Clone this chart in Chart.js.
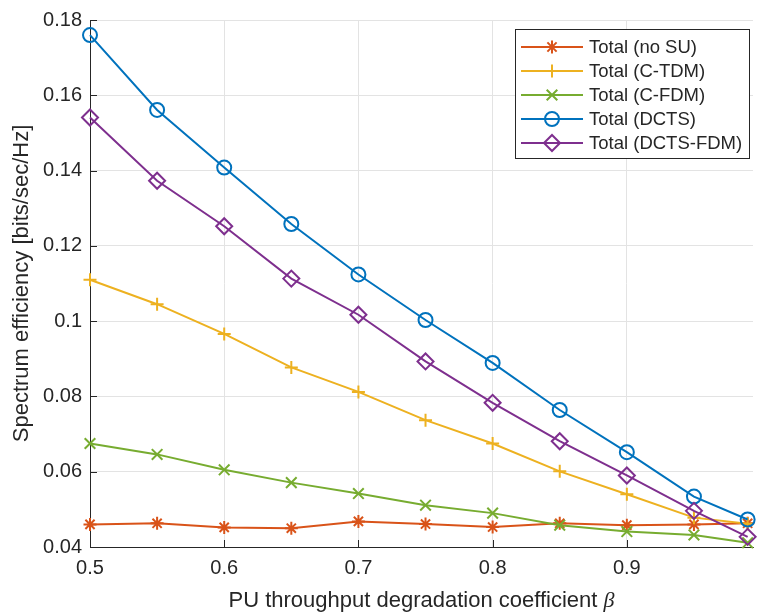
<!DOCTYPE html>
<html>
<head>
<meta charset="utf-8">
<script src="https://cdn.jsdelivr.net/npm/chart.js@4/dist/chart.umd.min.js"></script>
<style>
  html, body { margin: 0; padding: 0; background: #fff; overflow: hidden; }
</style>
</head>
<body>
<canvas id="chart" width="763" height="615"></canvas>
<script>
const beta = [0.5, 0.55, 0.6, 0.65, 0.7, 0.75, 0.8, 0.85, 0.9, 0.95, 0.99];
const noSU   = [0.0460, 0.0463, 0.0452, 0.0450, 0.0468, 0.0461, 0.0453, 0.0463, 0.0458, 0.0460, 0.0463];
const cTDM   = [0.1110, 0.1045, 0.0966, 0.0877, 0.0812, 0.0737, 0.0675, 0.0601, 0.0540, 0.0478, 0.0462];
const cFDM   = [0.0675, 0.0646, 0.0605, 0.0571, 0.0542, 0.0511, 0.0490, 0.0458, 0.0441, 0.0432, 0.0411];
const dcts   = [0.1760, 0.1561, 0.1408, 0.1258, 0.1124, 0.1003, 0.0889, 0.0764, 0.0652, 0.0534, 0.0473];
const dctsFDM = [0.1541, 0.1373, 0.1252, 0.1113, 0.1017, 0.0893, 0.0783, 0.0681, 0.0590, 0.0496, 0.0427];
const xTicks = [0.5, 0.6, 0.7, 0.8, 0.9];
const yTicks = [0.04, 0.06, 0.08, 0.1, 0.12, 0.14, 0.16, 0.18];

const FONT = '"Liberation Sans", Arial, Helvetica, sans-serif';
const AXIS = '#262626';

const series = [
  { label: 'Total (no SU)',     data: noSU,    color: '#D95319', style: 'star',     r: 6.5, order: 5 },
  { label: 'Total (C-TDM)',     data: cTDM,    color: '#EDB120', style: 'cross',    r: 6.5, order: 4 },
  { label: 'Total (C-FDM)',     data: cFDM,    color: '#77AC30', style: 'crossRot', r: 7.5, order: 3 },
  { label: 'Total (DCTS)',      data: dcts,    color: '#0072BD', style: 'circle',   r: 7,   order: 2 },
  { label: 'Total (DCTS-FDM)',  data: dctsFDM, color: '#7E2F8E', style: 'rectRot',  r: 8,   order: 1 },
];

// inward tick marks, axis titles and a matlab-like legend
const decorations = {
  id: 'decorations',
  afterDraw(chart) {
    const ctx = chart.ctx;
    const { left, right, top, bottom } = chart.chartArea;
    const xs = chart.scales.x, ys = chart.scales.y;
    ctx.save();
    ctx.strokeStyle = AXIS;
    ctx.lineWidth = 1;
    ctx.beginPath();
    xTicks.forEach(v => {
      const px = Math.round(xs.getPixelForValue(v)) + 0.5;
      ctx.moveTo(px, bottom); ctx.lineTo(px, bottom - 7);
    });
    yTicks.forEach(v => {
      const py = Math.round(ys.getPixelForValue(v)) + 0.5;
      ctx.moveTo(left, py); ctx.lineTo(left + 7, py);
    });
    ctx.stroke();

    // x title with italic beta
    ctx.fillStyle = AXIS;
    ctx.textBaseline = 'alphabetic';
    const main = 'PU throughput degradation coefficient ';
    ctx.font = '22px ' + FONT;
    const w1 = ctx.measureText(main).width;
    ctx.font = 'italic 22px "Liberation Serif", "DejaVu Serif", serif';
    const w2 = ctx.measureText('β').width;
    const startX = (left + right) / 2 - (w1 + w2) / 2;
    ctx.font = '22px ' + FONT;
    ctx.textAlign = 'left';
    ctx.fillText(main, startX, 607);
    ctx.font = 'italic 22px "Liberation Serif", "DejaVu Serif", serif';
    ctx.fillText('β', startX + w1, 607);

    // y title
    ctx.save();
    ctx.translate(28, (top + bottom) / 2);
    ctx.rotate(-Math.PI / 2);
    ctx.font = '22px ' + FONT;
    ctx.textAlign = 'center';
    ctx.fillText('Spectrum efficiency [bits/sec/Hz]', 0, 0);
    ctx.restore();

    // legend
    const bx = 515.5, by = 29.5, bw = 234, bh = 129;
    ctx.fillStyle = '#fff';
    ctx.fillRect(bx, by, bw, bh);
    ctx.strokeStyle = AXIS;
    ctx.lineWidth = 1;
    ctx.strokeRect(bx, by, bw, bh);
    ctx.font = '18.5px ' + FONT;
    ctx.textAlign = 'left';
    ctx.textBaseline = 'middle';
    series.forEach((s, i) => {
      const y = 47 + i * 24;
      ctx.strokeStyle = s.color;
      ctx.lineWidth = 2;
      ctx.beginPath();
      ctx.moveTo(521, y); ctx.lineTo(583, y);
      ctx.stroke();
      ctx.fillStyle = 'rgba(0,0,0,0)';
      Chart.helpers.drawPoint(ctx, { pointStyle: s.style, radius: s.r, rotation: 0, borderWidth: 2 }, 552, y);
      ctx.fillStyle = AXIS;
      ctx.fillText(s.label, 589, y + 1);
    });
    ctx.restore();
  }
};

new Chart(document.getElementById('chart'), {
  type: 'line',
  data: {
    datasets: series.map(s => ({
      label: s.label,
      data: beta.map((b, i) => ({ x: b, y: s.data[i] })),
      borderColor: s.color,
      backgroundColor: s.color,
      borderWidth: 2,
      pointStyle: s.style,
      pointRadius: s.r,
      pointBorderWidth: 2,
      pointBorderColor: s.color,
      pointBackgroundColor: 'rgba(0,0,0,0)',
      tension: 0,
      clip: false,
      order: s.order,
    })),
  },
  options: {
    responsive: false,
    animation: false,
    devicePixelRatio: 1,
    layout: { padding: { top: 13, right: 5, left: 0, bottom: 0 } },
    plugins: { legend: { display: false }, tooltip: { enabled: false } },
    scales: {
      x: {
        type: 'linear',
        min: 0.5,
        max: 0.994,
        afterBuildTicks: scale => { scale.ticks = xTicks.map(v => ({ value: v })); },
        afterFit: scale => { scale.height = 68; },
        ticks: {
          padding: 9,
          color: AXIS,
          font: { family: FONT, size: 20 },
          maxRotation: 0,
          callback: v => String(parseFloat(v.toFixed(2))),
        },
        grid: { color: '#e3e3e3', drawTicks: false, lineWidth: 1 },
        border: { color: AXIS, width: 1 },
      },
      y: {
        min: 0.04,
        max: 0.18,
        afterBuildTicks: scale => { scale.ticks = yTicks.map(v => ({ value: v })); },
        afterFit: scale => { scale.width = 90; },
        ticks: {
          padding: 8,
          color: AXIS,
          font: { family: FONT, size: 20 },
          callback: v => String(parseFloat(v.toFixed(2))),
        },
        grid: { color: '#e3e3e3', drawTicks: false, lineWidth: 1 },
        border: { color: AXIS, width: 1 },
      },
    },
  },
  plugins: [decorations],
});
</script>
</body>
</html>
